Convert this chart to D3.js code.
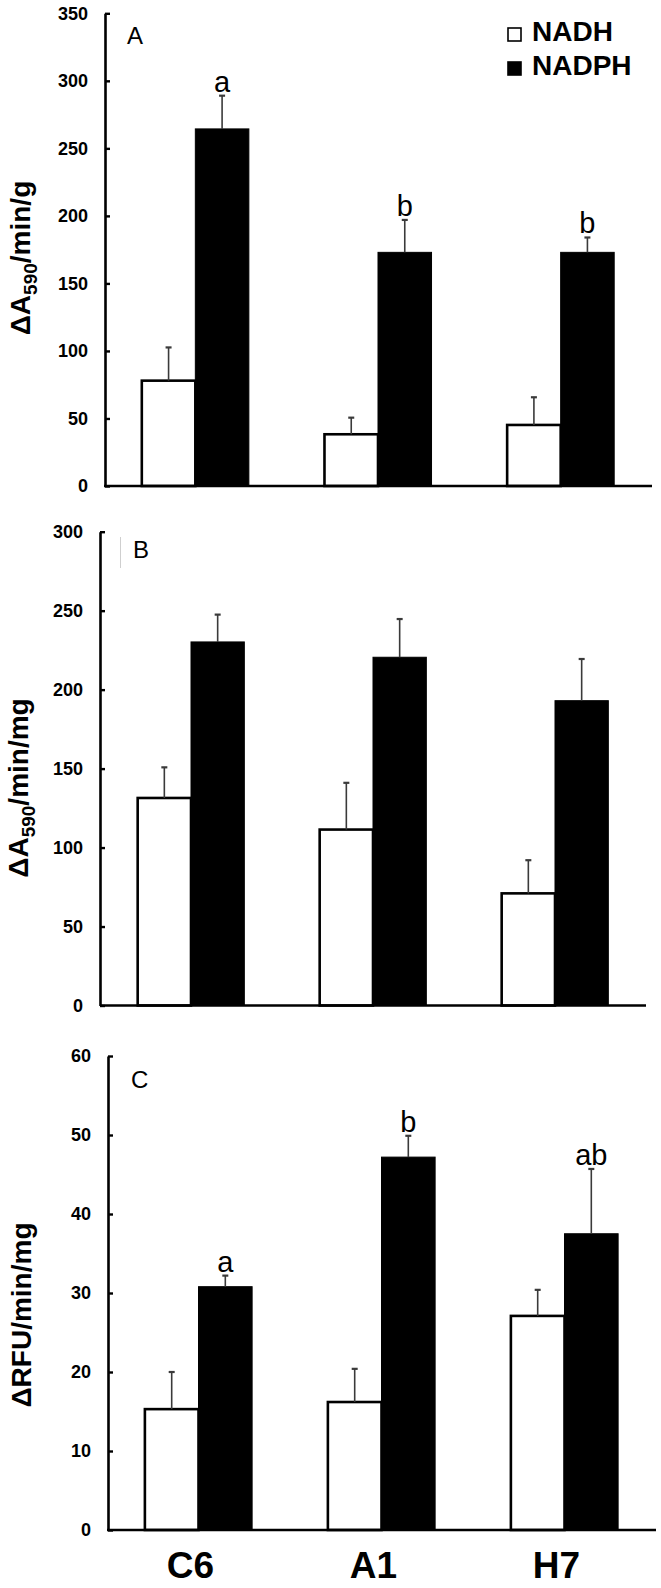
<!DOCTYPE html>
<html>
<head>
<meta charset="utf-8">
<script src="https://cdn.jsdelivr.net/npm/d3@7"></script>
<style>
  html, body { margin: 0; padding: 0; background: #fff; }
  svg { display: block; font-family: "Liberation Sans", Arial, Helvetica, sans-serif; }
</style>
</head>
<body>
<svg id="chart" width="661" height="1588"></svg>
<script>
// ---------- data ----------
const groups = ["C6", "A1", "H7"];
const series = ["NADH", "NADPH"];

// Panel A (ΔA590/min/g)
const nadhA      = [78, 38.3, 45.2];
const nadhErrA   = [24.6, 12.3, 20.5];
const nadphA     = [264.4, 173, 173];
const nadphErrA  = [24.6, 24, 11];
const lettersA   = ["a", "b", "b"];
const ticksA     = [0, 50, 100, 150, 200, 250, 300, 350];

// Panel B (ΔA590/min/mg)
const nadhB      = [131.4, 111.4, 71];
const nadhErrB   = [19.4, 29.6, 21];
const nadphB     = [230.2, 220.5, 193];
const nadphErrB  = [17.3, 24.2, 26.4];
const lettersB   = ["", "", ""];
const ticksB     = [0, 50, 100, 150, 200, 250, 300];

// Panel C (ΔRFU/min/mg)
const nadhC      = [15.3, 16.2, 27.1];
const nadhErrC   = [4.7, 4.2, 3.3];
const nadphC     = [30.8, 47.2, 37.5];
const nadphErrC  = [1.4, 2.7, 8.2];
const lettersC   = ["a", "b", "ab"];
const ticksC     = [0, 10, 20, 30, 40, 50, 60];

// ---------- drawing ----------
const svg = d3.select("#chart");
const fill = d3.scaleOrdinal().domain(series).range(["#ffffff", "#000000"]);

function drawPanel(cfg) {
  const g = svg.append("g");
  const ticks = cfg.ticks;
  const y = d3.scaleLinear().domain([0, d3.max(ticks)]).range([cfg.bottom, cfg.top]);
  const x0 = d3.scaleBand().domain(groups).range([cfg.left, cfg.right])
    .paddingInner(0.414).paddingOuter(0.207);
  const x1 = d3.scaleBand().domain(series).range([0, x0.bandwidth()]);

  const rows = groups.map((grp, i) => ({
    grp,
    vals: [
      { s: "NADH",  v: cfg.nadh[i],  e: cfg.nadhErr[i] },
      { s: "NADPH", v: cfg.nadph[i], e: cfg.nadphErr[i] }
    ],
    letter: cfg.letters[i]
  }));

  // bars
  const gg = g.selectAll(".grp").data(rows).join("g")
    .attr("transform", d => `translate(${x0(d.grp)},0)`);
  gg.selectAll("rect").data(d => d.vals).join("rect")
    .attr("x", d => x1(d.s))
    .attr("y", d => y(d.v))
    .attr("width", x1.bandwidth())
    .attr("height", d => y(0) - y(d.v))
    .attr("fill", d => fill(d.s))
    .attr("stroke", "#000")
    .attr("stroke-width", d => d.s === "NADH" ? 2.6 : 1);

  // error bars (upper)
  gg.selectAll("line.err").data(d => d.vals).join("line")
    .attr("class", "err")
    .attr("x1", d => x1(d.s) + x1.bandwidth() / 2)
    .attr("x2", d => x1(d.s) + x1.bandwidth() / 2)
    .attr("y1", d => y(d.v))
    .attr("y2", d => y(d.v + d.e))
    .attr("stroke", "#3a3a3a").attr("stroke-width", 1.6);
  gg.selectAll("line.cap").data(d => d.vals).join("line")
    .attr("class", "cap")
    .attr("x1", d => x1(d.s) + x1.bandwidth() / 2 - 3)
    .attr("x2", d => x1(d.s) + x1.bandwidth() / 2 + 3)
    .attr("y1", d => y(d.v + d.e))
    .attr("y2", d => y(d.v + d.e))
    .attr("stroke", "#3a3a3a").attr("stroke-width", 2.2);

  // significance letters
  gg.append("text")
    .attr("x", x1("NADPH") + x1.bandwidth() / 2)
    .attr("y", d => y(d.vals[1].v + d.vals[1].e) - 4)
    .attr("text-anchor", "middle")
    .attr("font-size", 29)
    .text(d => d.letter);

  // y axis
  const ax = g.append("g")
    .attr("transform", `translate(${cfg.left + cfg.axisShift},0)`)
    .call(d3.axisLeft(y).tickValues(ticks).tickSizeInner(-5).tickSizeOuter(0).tickPadding(17));
  ax.select(".domain").attr("stroke", "#000").attr("stroke-width", 2.6);
  ax.selectAll(".tick line").attr("stroke", "#000").attr("stroke-width", 2.4);
  ax.selectAll(".tick text")
    .attr("font-size", 18).attr("font-weight", "bold")
    .attr("font-family", "'Liberation Sans', Arial, sans-serif").attr("fill", "#000");

  // x axis baseline
  g.append("line")
    .attr("x1", cfg.left).attr("x2", cfg.right)
    .attr("y1", y(0)).attr("y2", y(0))
    .attr("stroke", "#000").attr("stroke-width", 2.6);

  // y title
  const t = g.append("text")
    .attr("transform", `translate(${cfg.titleX},${cfg.titleY}) rotate(-90)`)
    .attr("text-anchor", "middle")
    .attr("font-size", 28).attr("font-weight", "bold");
  cfg.title.forEach(part => {
    const ts = t.append("tspan").text(part.t);
    if (part.sub) ts.attr("font-size", 19).attr("dy", 7);
    else if (part.after) ts.attr("dy", -7);
  });

  // panel letter
  g.append("text")
    .attr("x", cfg.left + cfg.letterDX).attr("y", cfg.letterY)
    .attr("font-size", 24).text(cfg.panel);

  return { x0, x1, y };
}

drawPanel({
  panel: "A", top: 13.3, bottom: 486, left: 104, right: 652, axisShift: 1,
  ticks: ticksA, nadh: nadhA, nadhErr: nadhErrA, nadph: nadphA, nadphErr: nadphErrA,
  letters: lettersA, titleX: 30, titleY: 258, letterDX: 23, letterY: 44,
  title: [{ t: "ΔA" }, { t: "590", sub: true }, { t: "/min/g", after: true }]
});

drawPanel({
  panel: "B", top: 531.7, bottom: 1005.5, left: 100, right: 646, axisShift: 0,
  ticks: ticksB, nadh: nadhB, nadhErr: nadhErrB, nadph: nadphB, nadphErr: nadphErrB,
  letters: lettersB, titleX: 28, titleY: 788, letterDX: 33, letterY: 558,
  title: [{ t: "ΔA" }, { t: "590", sub: true }, { t: "/min/mg", after: true }]
});
// faint scan artefact line next to "B"
svg.append("line").attr("x1", 120.5).attr("x2", 120.5).attr("y1", 537).attr("y2", 568)
  .attr("stroke", "#cfcfcf").attr("stroke-width", 1);

const pc = drawPanel({
  panel: "C", top: 1056, bottom: 1530, left: 107, right: 656, axisShift: 1,
  ticks: ticksC, nadh: nadhC, nadhErr: nadhErrC, nadph: nadphC, nadphErr: nadphErrC,
  letters: lettersC, titleX: 31, titleY: 1315, letterDX: 24, letterY: 1088,
  title: [{ t: "ΔRFU/min/mg" }]
});

// category labels under the bottom panel
svg.append("g").selectAll("text").data(groups).join("text")
  .attr("x", d => pc.x0(d) + pc.x0.bandwidth() / 2 - 8)
  .attr("y", 1578)
  .attr("text-anchor", "middle")
  .attr("font-size", 37).attr("font-weight", "bold")
  .text(d => d);

// legend (panel A)
const leg = svg.append("g").attr("transform", "translate(508,0)");
const legY = d3.scalePoint().domain(series).range([34, 68]);
leg.selectAll("rect").data(series).join("rect")
  .attr("x", 0).attr("y", d => legY(d) - 6)
  .attr("width", 13).attr("height", 13)
  .attr("fill", d => fill(d)).attr("stroke", "#000").attr("stroke-width", 1.6);
leg.selectAll("text").data(series).join("text")
  .attr("x", 24).attr("y", d => legY(d) + 7)
  .attr("font-size", 28).attr("font-weight", "bold")
  .text(d => d);
</script>
</body>
</html>
